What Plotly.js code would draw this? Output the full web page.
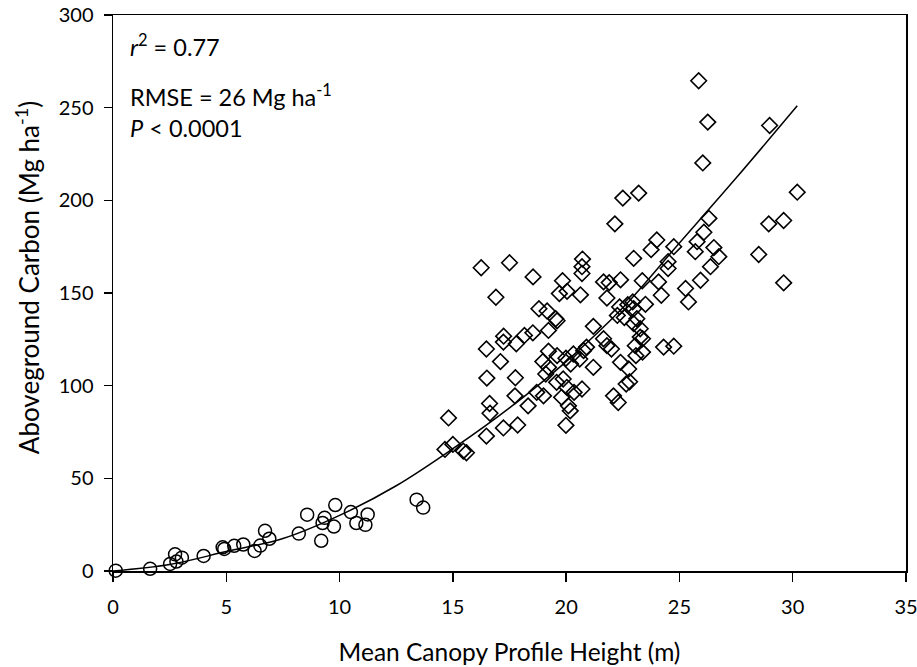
<!DOCTYPE html>
<html>
<head>
<meta charset="utf-8">
<script src="https://cdn.plot.ly/plotly-3.0.1.min.js"></script>
<style>html,body{margin:0;padding:0;background:#fff;}#chart{width:917px;height:667px;}</style>
</head>
<body>
<div id="chart"></div>
<script>
// Circles (low-height plots)
const circleX = [0.12,1.64,2.52,2.74,2.8,3.04,4.0,4.84,4.91,5.35,5.75,6.25,6.5,6.71,6.9,8.2,8.57,9.19,9.25,9.34,9.75,9.81,10.5,10.74,11.14,11.24,13.4,13.69];
const circleY = [0.2,1.2,3.8,9.0,5.1,7.2,8.1,12.8,11.9,13.6,14.3,10.8,13.7,21.7,17.4,20.2,30.4,16.3,25.9,28.7,24.0,35.6,31.8,25.9,24.9,30.5,38.5,34.2];

// Diamonds (taller plots)
const diamondX = [22.5,23.2,22.15,16.25,17.5,18.54,16.9,20.72,20.7,20.7,19.84,19.7,20.04,20.63,22.98,23.75,24.0,21.65,21.9,22.4,21.8,23.36,18.8,19.16,19.54,19.6,19.22,21.2,22.36,22.72,22.98,23.5,22.94,22.26,22.57,17.24,16.48,17.23,17.8,18.16,18.53,17.1,16.5,17.76,17.74,16.62,16.64,18.32,14.81,16.48,17.23,17.86,14.65,15.0,15.46,15.6,19.22,19.6,18.97,19.22,19.1,19.99,20.32,20.2,20.6,20.9,21.2,21.65,21.8,22.0,22.4,22.76,23.08,23.37,23.05,19.58,19.87,20.03,20.35,20.7,19.8,20.1,20.18,19.99,18.7,19.0,22.09,22.3,22.65,22.8,23.37,25.85,26.25,26.03,28.98,30.2,28.94,29.6,28.5,29.6,26.3,26.08,25.78,25.7,26.52,26.74,26.37,25.93,25.27,25.4,24.75,24.5,24.5,24.08,24.2,23.12,23.27,23.27,24.3,24.75,20.77,22.98];
const diamondY = [201.2,203.9,187.3,163.6,166.3,158.7,147.7,168.3,164.2,160.5,156.6,149.7,150.9,149.0,168.7,173.4,178.6,156.0,155.6,157.1,147.3,156.6,141.5,140.3,136.1,135.0,129.8,132.0,142.5,143.7,141.5,143.9,145.2,137.9,136.8,126.7,119.8,123.5,122.6,127.1,128.5,113.0,104.1,104.3,94.5,90.4,85.1,89.1,82.6,72.8,77.2,78.8,65.6,68.3,64.7,63.8,118.6,116.2,113.0,109.9,106.3,114.8,117.1,111.7,114.4,120.8,109.9,125.3,121.6,119.8,112.6,109.0,116.2,125.3,121.6,101.8,103.6,99.1,96.4,98.2,93.7,89.1,86.4,78.6,96.4,94.5,94.5,90.9,100.9,102.1,118.1,264.5,242.2,220.2,240.4,204.4,187.3,189.1,170.8,155.5,190.3,182.8,177.7,172.3,174.5,169.6,164.2,156.9,152.4,145.2,175.0,166.9,163.2,156.0,148.8,136.1,130.7,126.2,120.8,121.3,118.9,133.5];

// Fitted curve
const fitX = [0,2.5,5,7.5,10,12.5,15,17.5,20,22.5,25,27.5,30.2];
const fitY = [0,3.5,10.5,17.5,30,46,66,88,113,142,177,212,251];

// Tick values
const xTicks = [0,5,10,15,20,25,30,35];
const yTicks = [0,50,100,150,200,250,300];

const FONT = 'Lato, "Open Sans", sans-serif';

const traces = [
  {x: fitX, y: fitY, type:'scatter', mode:'lines', line:{color:'#000', width:1.5, shape:'spline', smoothing:1}, hoverinfo:'skip', cliponaxis:false},
  {x: circleX, y: circleY, type:'scatter', mode:'markers', marker:{symbol:'circle-open', size:13, color:'#000', line:{width:1.5, color:'#000'}}, cliponaxis:false},
  {x: diamondX, y: diamondY, type:'scatter', mode:'markers', marker:{symbol:'diamond-open', size:12, color:'#000', line:{width:1.6, color:'#000'}}, cliponaxis:false}
];

const layout = {
  width: 917, height: 667,
  margin: {l:113, r:11, t:15, b:96},
  paper_bgcolor:'#fff', plot_bgcolor:'#fff',
  showlegend:false,
  font:{family:FONT, color:'#000', size:20},
  xaxis:{
    range:[0,35], tickvals:xTicks, ticks:'outside', ticklen:9, tickwidth:1.3, tickcolor:'#000',
    showline:true, linecolor:'#000', linewidth:1.5, mirror:true, showgrid:false, zeroline:false,
    tickfont:{family:FONT, size:20, color:'#000'}, ticklabelstandoff:8, ticklabeloverflow:'allow',
    title:{text:'Mean Canopy Profile Height (m)', font:{family:FONT, size:24.5, color:'#000'}, standoff:27}
  },
  yaxis:{
    range:[0,300], tickvals:yTicks, ticks:'outside', ticklen:8, tickwidth:1.3, tickcolor:'#000',
    showline:true, linecolor:'#000', linewidth:1.5, mirror:true, showgrid:false, zeroline:false,
    tickfont:{family:FONT, size:20, color:'#000'}, ticklabelstandoff:6,
    title:{text:''}
  },
  annotations:[
    {xref:'paper', yref:'paper', x:-0.107, y:0.527, xanchor:'center', yanchor:'middle', textangle:-90, showarrow:false, text:'Aboveground Carbon (Mg ha<sup>-1</sup>)', font:{family:FONT, size:26, color:'#000'}},
    {xref:'paper', yref:'paper', x:0.019, y:0.946, xanchor:'left', yanchor:'middle', showarrow:false, text:'<i>r</i><sup>2</sup> = 0.77', font:{family:FONT, size:23.5, color:'#000'}},
    {xref:'paper', yref:'paper', x:0.019, y:0.856, xanchor:'left', yanchor:'middle', showarrow:false, text:'RMSE = 26 Mg ha<sup>-1</sup>', font:{family:FONT, size:23.5, color:'#000'}},
    {xref:'paper', yref:'paper', x:0.019, y:0.797, xanchor:'left', yanchor:'middle', showarrow:false, text:'<i>P</i> < 0.0001', font:{family:FONT, size:23.5, color:'#000'}}
  ]
};

Plotly.newPlot('chart', traces, layout, {displayModeBar:false, staticPlot:true});
</script>
</body>
</html>
